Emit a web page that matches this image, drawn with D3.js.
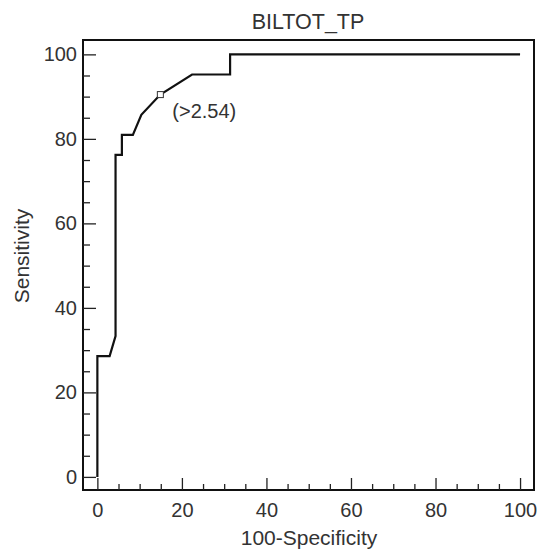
<!DOCTYPE html>
<html><head><meta charset="utf-8">
<script src="https://cdn.jsdelivr.net/npm/d3@7"></script>
<style>
html,body{margin:0;padding:0;background:#fff;}
text{font-family:"Liberation Sans",Arial,sans-serif;fill:#333;}
</style></head>
<body><svg id="c" width="545" height="552"></svg>
<script>
// ROC curve data (100-Specificity, Sensitivity)
const fpr = [0, 0, 2.9, 4.3, 4.3, 5.8, 5.8, 8.4, 10.4, 14.9, 22.4, 31.4, 31.4, 100];
const tpr = [0, 28.57, 28.57, 33.33, 76.19, 76.19, 80.95, 80.95, 85.71, 90.48, 95.24, 95.24, 100, 100];
const markerPoint = [14.9, 90.48];
const markerLabel = "(>2.54)";
const majorTicks = [0, 20, 40, 60, 80, 100];
const minorTicks = [5, 10, 15, 25, 30, 35, 45, 50, 55, 65, 70, 75, 85, 90, 95];
const title = "BILTOT_TP";
const xTitle = "100-Specificity";
const yTitle = "Sensitivity";

const svg = d3.select("#c");
const L = 83, R = 534, T = 40, B = 490;
const x = d3.scaleLinear().domain([-3.4, 103.3]).range([L, R]);
const y = d3.scaleLinear().domain([-3.1, 103.4]).range([B, T]);

// frame
svg.append("rect").attr("x", L).attr("y", T).attr("width", R - L).attr("height", B - T)
  .attr("fill", "none").attr("stroke", "#111").attr("stroke-width", 2);

// x ticks (inward)
const xAxis = d3.axisBottom(x).tickValues(majorTicks).tickSize(-12).tickPadding(13).tickFormat(d3.format("d"));
const gx = svg.append("g").attr("transform", `translate(0,${B})`).call(xAxis);
gx.select(".domain").remove();
gx.selectAll(".tick line").attr("stroke", "#222").attr("stroke-width", 1.3);
gx.selectAll("text").attr("font-size", 20).style("fill", "#333").attr("font-family", "Liberation Sans, Arial, sans-serif");
const gxm = svg.append("g").attr("transform", `translate(0,${B})`).call(d3.axisBottom(x).tickValues(minorTicks).tickSize(-6).tickFormat(""));
gxm.select(".domain").remove();
gxm.selectAll(".tick line").attr("stroke", "#222").attr("stroke-width", 1.3);

// y ticks (inward)
const yAxis = d3.axisLeft(y).tickValues(majorTicks).tickSize(-13).tickPadding(6).tickFormat(d3.format("d"));
const gy = svg.append("g").attr("transform", `translate(${L},0)`).call(yAxis);
gy.select(".domain").remove();
gy.selectAll(".tick line").attr("stroke", "#222").attr("stroke-width", 1.3);
gy.selectAll("text").attr("font-size", 20).style("fill", "#333").attr("font-family", "Liberation Sans, Arial, sans-serif");
const gym = svg.append("g").attr("transform", `translate(${L},0)`).call(d3.axisLeft(y).tickValues(minorTicks).tickSize(-7).tickFormat(""));
gym.select(".domain").remove();
gym.selectAll(".tick line").attr("stroke", "#222").attr("stroke-width", 1.3);

// curve
const pts = fpr.map((v, i) => [v, tpr[i]]);
svg.append("path").datum(pts)
  .attr("d", d3.line().x(d => x(d[0])).y(d => y(d[1])))
  .attr("fill", "none").attr("stroke", "#111").attr("stroke-width", 2.2).attr("stroke-linejoin", "miter");

// marker
svg.append("rect").attr("x", x(markerPoint[0]) - 3).attr("y", y(markerPoint[1]) - 3)
  .attr("width", 6).attr("height", 6).attr("fill", "#fff").attr("stroke", "#333").attr("stroke-width", 1);
svg.append("text").attr("x", x(markerPoint[0]) + 12).attr("y", y(markerPoint[1]) + 23)
  .attr("font-size", 20).text(markerLabel);

// titles
svg.append("text").attr("x", 308).attr("y", 29).attr("text-anchor", "middle").attr("font-size", 21.5).text(title);
svg.append("text").attr("x", 309).attr("y", 545).attr("text-anchor", "middle").attr("font-size", 21).text(xTitle);
svg.append("text").attr("transform", "translate(29,256) rotate(-90)").attr("text-anchor", "middle").attr("font-size", 21).text(yTitle);
</script></body></html>
